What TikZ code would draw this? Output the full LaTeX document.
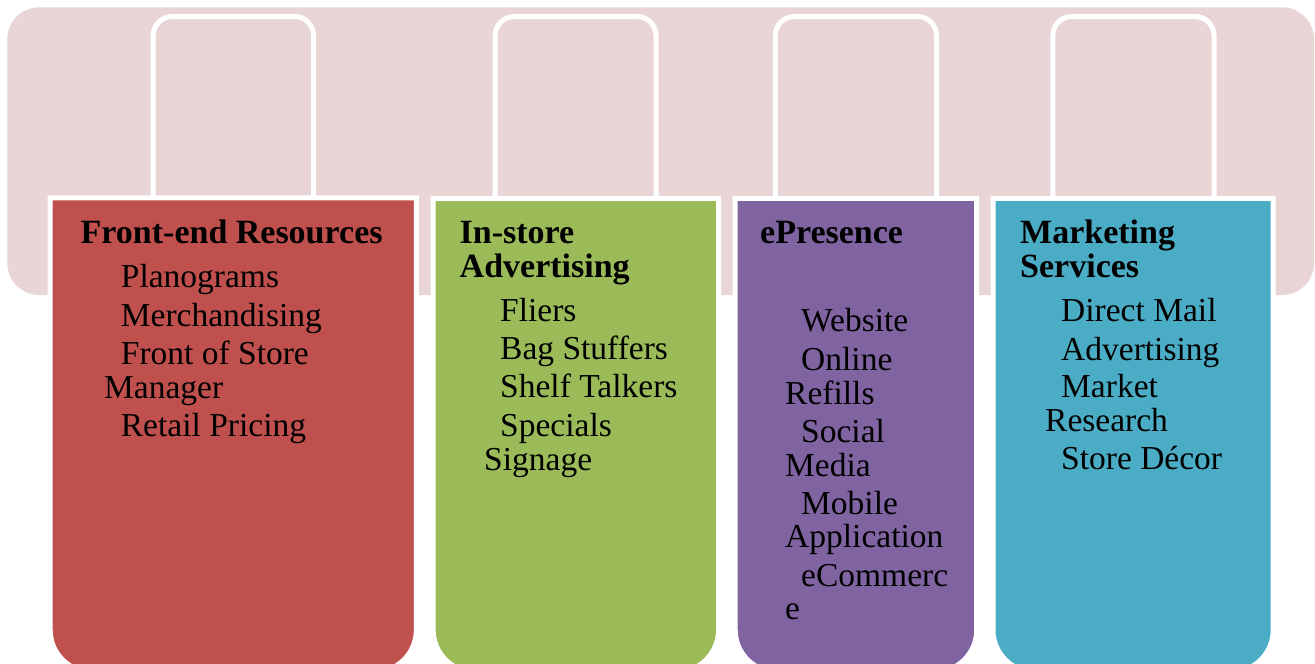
\documentclass[tikz,border=0pt]{standalone}
\usepackage{fontspec}
\setmainfont{Liberation Serif}
\definecolor{bgpink}{HTML}{E9D5D5}
\definecolor{cred}{HTML}{C0504D}
\definecolor{cgreen}{HTML}{9BBB59}
\definecolor{cpurple}{HTML}{8064A2}
\definecolor{ccyan}{HTML}{4BACC6}
\begin{document}
\begin{tikzpicture}[x=1pt,y=-1pt,
  frame/.style={draw=white,line width=5pt},
  head/.style={anchor=base west,inner sep=0pt,font=\fontsize{34}{40}\selectfont\bfseries},
  item/.style={anchor=base west,inner sep=0pt,font=\fontsize{33.5}{40}\selectfont}]
\useasboundingbox (0,0) rectangle (1315,664);
\fill[white] (0,0) rectangle (1315,664);
% background band
\fill[bgpink, rounded corners=32] (7.3,7.3) rectangle (1314,295);
% tabs
\draw[frame, fill=bgpink, rounded corners=19] (153.2,16.5) rectangle (313.5,260);
\draw[frame, fill=bgpink, rounded corners=19] (495.2,16.5) rectangle (656,260);
\draw[frame, fill=bgpink, rounded corners=19] (775.3,16.5) rectangle (936.5,260);
\draw[frame, fill=bgpink, rounded corners=19] (1052.8,16.5) rectangle (1214,260);
% boxes
\draw[frame, fill=cred] (233,672) [rounded corners=42] -- (416.3,672) -- (416.3,400) [sharp corners] -- (416.3,197.8) -- (50.2,197.8) -- (50.2,400) [rounded corners=42] -- (50.2,672) -- cycle;
\draw[frame, fill=cgreen] (576,672) [rounded corners=42] -- (718.5,672) -- (718.5,400) [sharp corners] -- (718.5,198.3) -- (433.2,198.3) -- (433.2,400) [rounded corners=42] -- (433.2,672) -- cycle;
\draw[frame, fill=cpurple] (856,672) [rounded corners=42] -- (976.7,672) -- (976.7,400) [sharp corners] -- (976.7,198.3) -- (735.2,198.3) -- (735.2,400) [rounded corners=42] -- (735.2,672) -- cycle;
\draw[frame, fill=ccyan] (1133,672) [rounded corners=42] -- (1273.2,672) -- (1273.2,400) [sharp corners] -- (1273.2,198.3) -- (993,198.3) -- (993,400) [rounded corners=42] -- (993,672) -- cycle;
% box 1 text
\node[head] (h1) at (80.5,243) {Front-end Resources};
\node[item] (a1) at (120.7,287.5) {Planograms};
\node[item] (a2) at (120.7,326) {Merchandising};
\node[item] (a3) at (120.7,364.5) {Front of Store};
\node[item] (a4) at (104,398) {Manager};
\node[item] (a5) at (120.7,436.5) {Retail Pricing};
% box 2 text
\node[head] (h2a) at (459.5,243) {In-store};
\node[head] (h2b) at (459.5,277) {Advertising};
\node[item] (b1) at (500,321.5) {Fliers};
\node[item] (b2) at (500,359.5) {Bag Stuffers};
\node[item] (b3) at (500,397.5) {Shelf Talkers};
\node[item] (b4) at (500,436) {Specials};
\node[item] (b5) at (484,470) {Signage};
% box 3 text
\node[head] (h3) at (760,243) {ePresence};
\node[item] (c1) at (801,331.7) {Website};
\node[item] (c2) at (801,370.5) {Online};
\node[item] (c3) at (785,404.3) {Refills};
\node[item] (c4) at (801,442.7) {Social};
\node[item] (c5) at (785,476) {Media};
\node[item] (c6) at (801,514.3) {Mobile};
\node[item] (c7) at (785,547.7) {Application};
\node[item] (c8) at (801,586) {eCommerc};
\node[item] (c9) at (785,619) {e};
% box 4 text
\node[head] (h4a) at (1020,243) {Marketing};
\node[head] (h4b) at (1020,277) {Services};
\node[item] (d1) at (1061,321.7) {Direct Mail};
\node[item] (d2) at (1061,360) {Advertising};
\node[item] (d3) at (1061,397.7) {Market};
\node[item] (d4) at (1045,431.7) {Research};
\node[item] (d5) at (1061,469.3) {Store Décor};
\end{tikzpicture}
\end{document}
